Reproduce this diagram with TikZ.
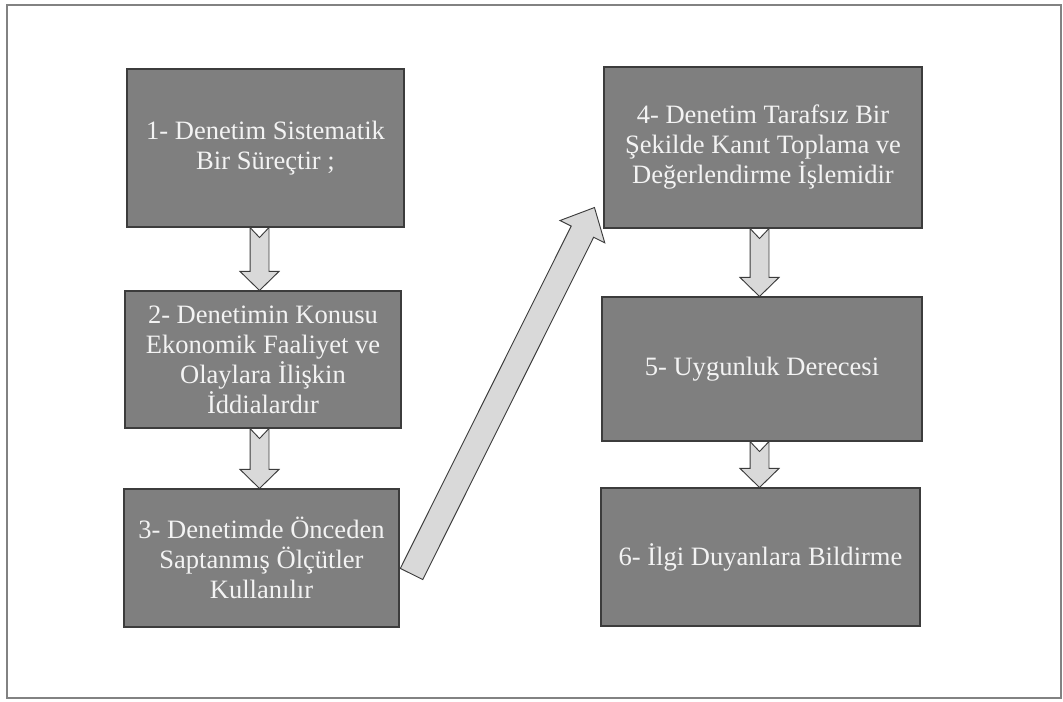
\documentclass[tikz,border=0pt]{standalone}
\usepackage{fontspec}
\setmainfont{Liberation Serif}
\usetikzlibrary{calc}

\definecolor{boxgray}{RGB}{127,127,127}
\definecolor{edgegray}{RGB}{60,60,60}
\definecolor{arrowgray}{RGB}{217,217,217}
\definecolor{textwhite}{RGB}{243,243,243}
\definecolor{framegray}{RGB}{130,130,130}

% tail, tip, shaft half width, head half width, head length, notch depth
\newcommand{\blockarrow}[6]{%
  \coordinate (hb) at ($(#2)!#5!(#1)$);
  \draw[blockarrow] ($(#1)!#3!-90:(#2)$) -- ($(#1)!#6!(#2)$) -- ($(#1)!#3!90:(#2)$)
    -- ($(hb)!#3!90:(#2)$) -- ($(hb)!#4!90:(#2)$) -- (#2)
    -- ($(hb)!#4!-90:(#2)$) -- ($(hb)!#3!-90:(#2)$) -- cycle;
}

\begin{document}
\begin{tikzpicture}[
    x=0.75pt, y=0.75pt,
    stage/.style={draw=edgegray, fill=boxgray, line width=0.8pt, text=textwhite,
      align=center, font=\fontsize{19.9}{22.5}\selectfont},
    blockarrow/.style={draw=edgegray, fill=arrowgray, line width=0.7pt, line join=miter},
    frame/.style={draw=framegray, line width=1.1pt}
]

\useasboundingbox (0,0) rectangle (1063,702);
\draw[frame] (7,4) rectangle (1061,697);

\node (b1) at (265.5,554) [stage, minimum width=207.75pt, minimum height=118.5pt]
  {1- Denetim Sistematik\\Bir Süreçtir ;};
\node (b2) at (263,342.5) [stage, minimum width=207pt, minimum height=102.75pt]
  {2- Denetimin Konusu\\Ekonomik Faaliyet ve\\Olaylara İlişkin\\İddialardır};
\node (b3) at (261.5,144) [stage, minimum width=206.25pt, minimum height=103.5pt]
  {3- Denetimde Önceden\\Saptanmış Ölçütler\\Kullanılır};
\node (b4) at (763,554.5) [stage, minimum width=238.5pt, minimum height=120.75pt]
  {4- Denetim Tarafsız Bir\\Şekilde Kanıt Toplama ve\\Değerlendirme İşlemidir};
\node (b5) at (762,333) [stage, minimum width=240pt, minimum height=108pt]
  {5- Uygunluk Derecesi};
\node (b6) at (760.5,145) [stage, minimum width=239.25pt, minimum height=103.5pt]
  {6- İlgi Duyanlara Bildirme};

\foreach \a/\b/\s in {b1/b2/-6, b2/b3/-3.5, b4/b5/-3.5, b5/b6/-2.5}{
  \coordinate (t) at ($(\a.south)+(\s,0)$);
  \coordinate (h) at (t |- \b.north);
  \blockarrow{t}{h}{7.1pt}{14.6pt}{14.25pt}{7.5pt}
}

\coordinate (dt) at ($(b3.east)+(12,-16)$);
\coordinate (dh) at ($(b4.south west)+(-9,21)$);
\blockarrow{dt}{dh}{9.4pt}{18.75pt}{20.25pt}{0pt}

\end{tikzpicture}
\end{document}
